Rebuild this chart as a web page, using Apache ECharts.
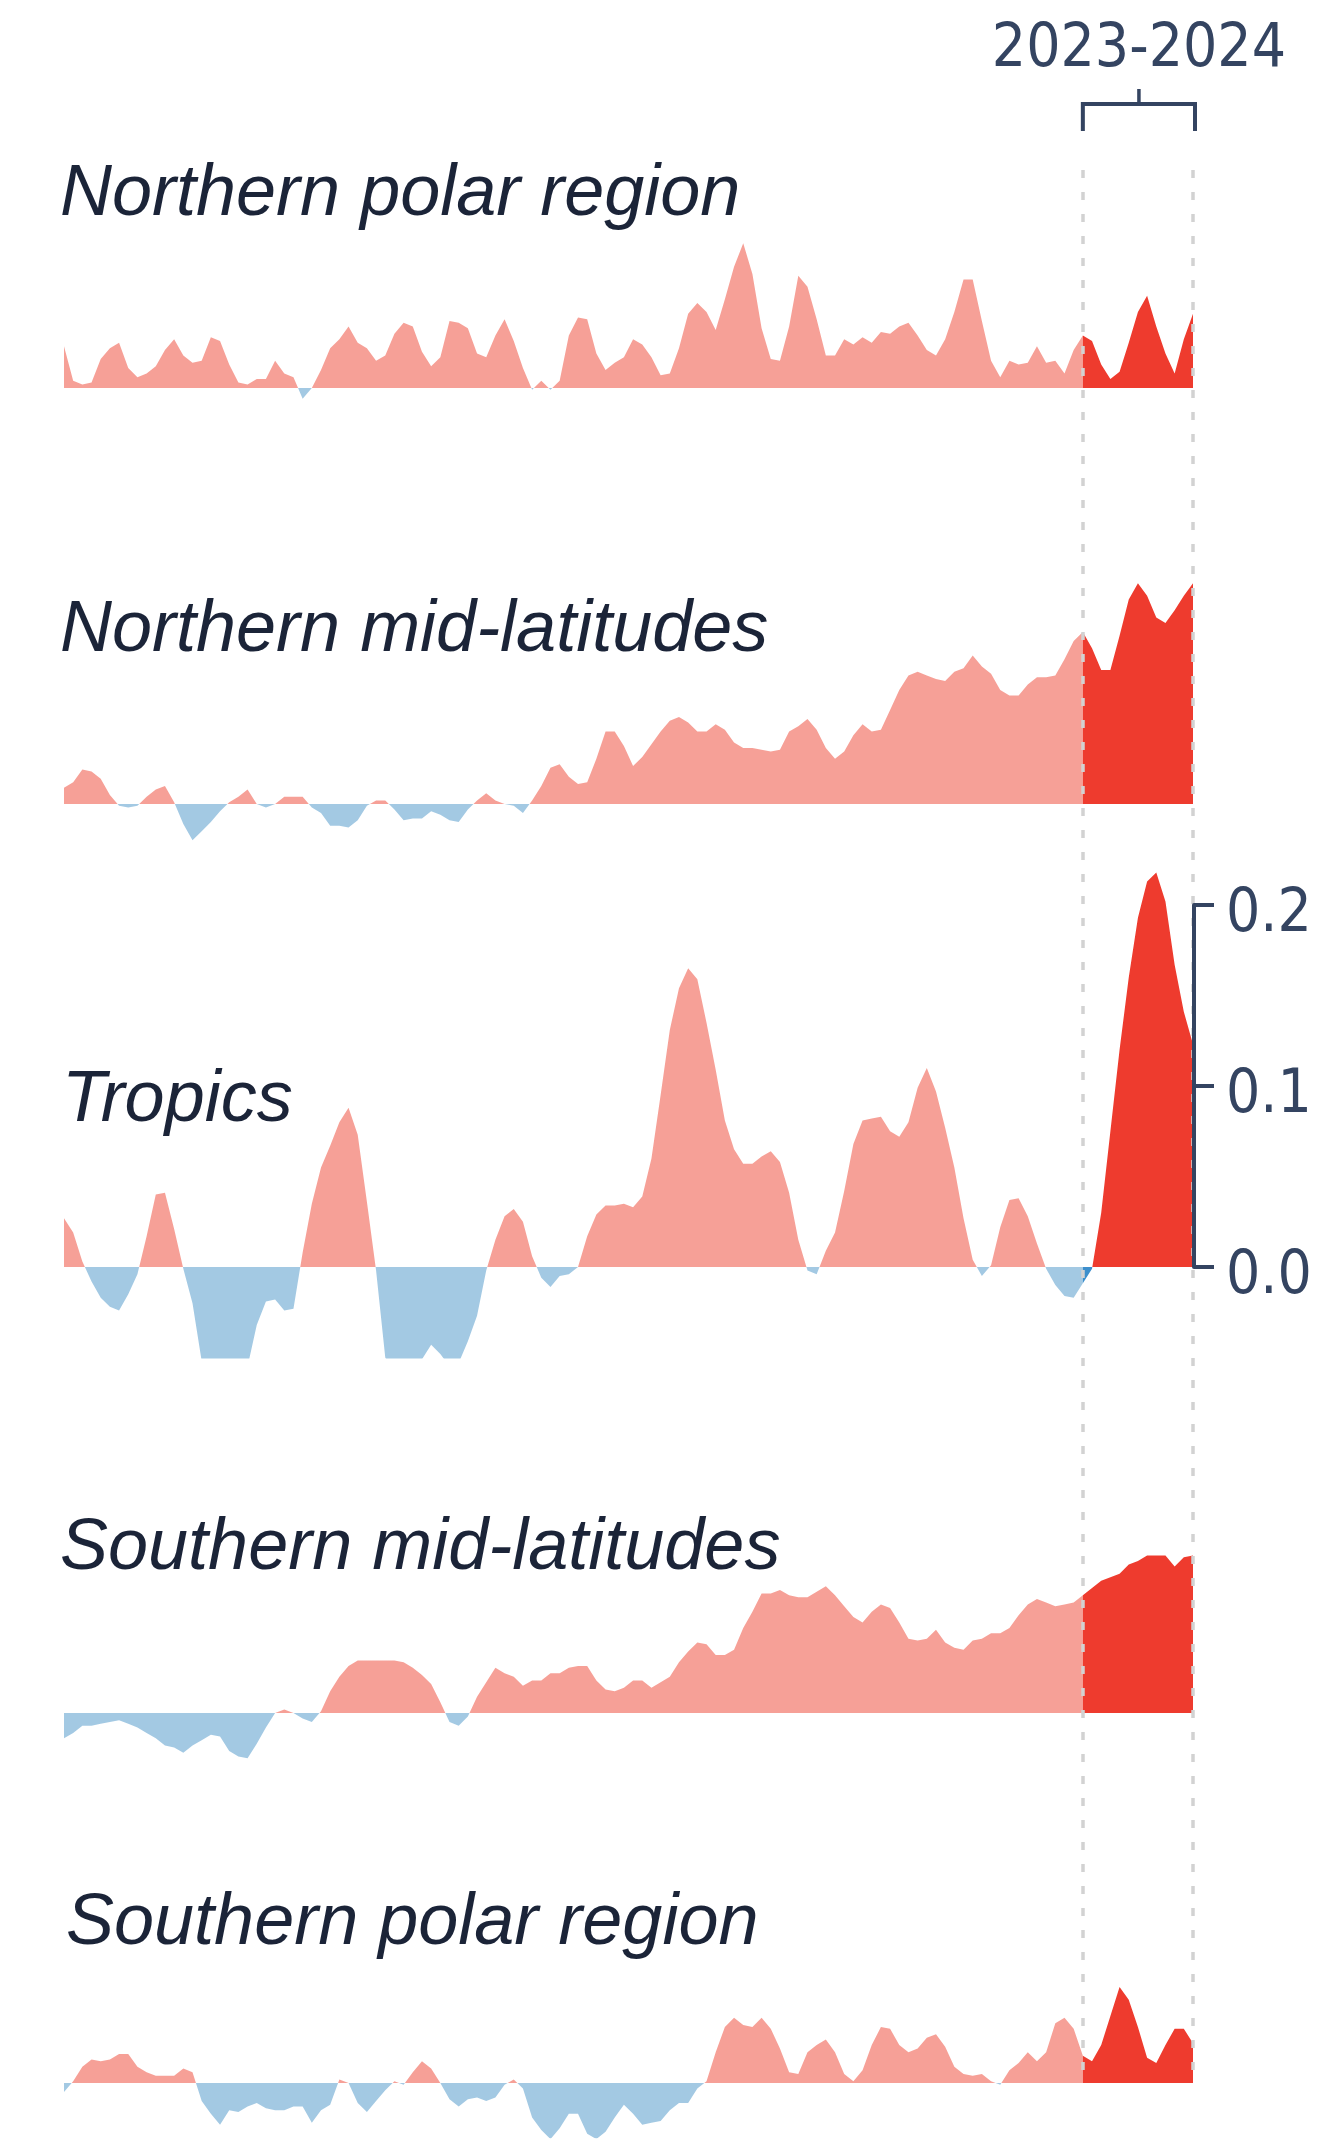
<!DOCTYPE html>
<html>
<head>
<meta charset="utf-8">
<script src="https://cdn.jsdelivr.net/npm/echarts/dist/echarts.min.js"></script>
<style>
html, body { margin: 0; padding: 0; background: #fff; }
#chart { width: 1332px; height: 2140px; }
</style>
</head>
<body>
<div id="chart"></div>
<script>
// regions, top to bottom
const regions = ['Northern polar region', 'Northern mid-latitudes', 'Tropics', 'Southern mid-latitudes', 'Southern polar region'];

// one value every two months; index 111 onward is 2023-2024
const startYear = 2004, startMonth = 7, stepMonths = 2, pointCount = 124, recentStart = 111;
const highlightLabel = '2023-2024';

const northPolar = [
  0.023, 0.004, 0.002, 0.003, 0.016, 0.022, 0.025, 0.011, 0.006, 0.008,
  0.012, 0.021, 0.027, 0.018, 0.014, 0.015, 0.028, 0.026, 0.013, 0.003,
  0.002, 0.005, 0.005, 0.015, 0.008, 0.006, -0.006, 0.000, 0.010, 0.022,
  0.027, 0.034, 0.025, 0.022, 0.015, 0.018, 0.030, 0.036, 0.034, 0.020,
  0.012, 0.017, 0.037, 0.036, 0.033, 0.019, 0.017, 0.029, 0.038, 0.026,
  0.011, -0.001, 0.004, -0.001, 0.004, 0.029, 0.039, 0.038, 0.019, 0.010,
  0.014, 0.017, 0.027, 0.024, 0.017, 0.007, 0.008, 0.022, 0.041, 0.047,
  0.042, 0.032, 0.049, 0.067, 0.080, 0.063, 0.033, 0.016, 0.015, 0.034,
  0.062, 0.056, 0.038, 0.018, 0.018, 0.027, 0.024, 0.028, 0.025, 0.031,
  0.030, 0.034, 0.036, 0.029, 0.021, 0.018, 0.027, 0.042, 0.060, 0.060,
  0.037, 0.015, 0.006, 0.015, 0.013, 0.014, 0.023, 0.014, 0.015, 0.008,
  0.021, 0.029, 0.026, 0.013, 0.005, 0.009, 0.025, 0.042, 0.051, 0.034,
  0.019, 0.008, 0.027, 0.041
];
const northMid = [
  0.009, 0.012, 0.019, 0.018, 0.014, 0.005, -0.001, -0.002, -0.001, 0.004,
  0.008, 0.010, 0.001, -0.011, -0.020, -0.015, -0.010, -0.004, 0.001, 0.004,
  0.008, 0.000, -0.002, 0.000, 0.004, 0.004, 0.004, -0.002, -0.005, -0.012,
  -0.012, -0.013, -0.009, -0.001, 0.002, 0.002, -0.003, -0.009, -0.008, -0.008,
  -0.004, -0.006, -0.009, -0.010, -0.003, 0.002, 0.006, 0.002, 0.000, -0.001,
  -0.005, 0.002, 0.010, 0.020, 0.022, 0.015, 0.011, 0.012, 0.025, 0.040,
  0.040, 0.032, 0.021, 0.026, 0.033, 0.040, 0.046, 0.048, 0.045, 0.040,
  0.040, 0.044, 0.041, 0.034, 0.031, 0.031, 0.030, 0.029, 0.030, 0.040,
  0.043, 0.047, 0.041, 0.031, 0.025, 0.029, 0.038, 0.044, 0.040, 0.041,
  0.052, 0.063, 0.071, 0.073, 0.071, 0.069, 0.068, 0.073, 0.075, 0.082,
  0.076, 0.072, 0.063, 0.060, 0.060, 0.066, 0.070, 0.070, 0.071, 0.080,
  0.090, 0.095, 0.086, 0.074, 0.074, 0.093, 0.113, 0.122, 0.115, 0.103,
  0.100, 0.107, 0.115, 0.122
];
const tropics = [
  0.027, 0.019, 0.003, -0.008, -0.017, -0.022, -0.024, -0.015, -0.004, 0.017,
  0.040, 0.041, 0.021, -0.001, -0.020, -0.052, -0.056, -0.060, -0.062, -0.060,
  -0.055, -0.032, -0.019, -0.018, -0.024, -0.023, 0.008, 0.035, 0.055, 0.067,
  0.080, 0.088, 0.073, 0.036, -0.002, -0.050, -0.060, -0.065, -0.060, -0.051,
  -0.043, -0.048, -0.055, -0.053, -0.041, -0.027, -0.002, 0.015, 0.028, 0.032,
  0.025, 0.006, -0.006, -0.011, -0.005, -0.004, 0.000, 0.017, 0.029, 0.034,
  0.034, 0.035, 0.033, 0.039, 0.060, 0.095, 0.131, 0.154, 0.165, 0.159,
  0.135, 0.109, 0.081, 0.065, 0.057, 0.057, 0.061, 0.064, 0.058, 0.041,
  0.015, -0.002, -0.004, 0.009, 0.019, 0.042, 0.068, 0.081, 0.082, 0.083,
  0.075, 0.072, 0.080, 0.099, 0.110, 0.097, 0.077, 0.055, 0.027, 0.004,
  -0.005, 0.001, 0.022, 0.037, 0.038, 0.028, 0.013, -0.001, -0.010, -0.016,
  -0.017, -0.009, -0.001, 0.030, 0.075, 0.120, 0.160, 0.193, 0.213, 0.218,
  0.202, 0.167, 0.141, 0.123
];
const southMid = [
  -0.014, -0.011, -0.007, -0.007, -0.006, -0.005, -0.004, -0.006, -0.008, -0.011,
  -0.014, -0.018, -0.019, -0.022, -0.018, -0.015, -0.012, -0.013, -0.021, -0.024,
  -0.025, -0.017, -0.008, 0.000, 0.002, 0.000, -0.003, -0.005, 0.001, 0.012,
  0.020, 0.026, 0.029, 0.029, 0.029, 0.029, 0.029, 0.028, 0.025, 0.021,
  0.016, 0.006, -0.005, -0.007, -0.002, 0.009, 0.017, 0.025, 0.022, 0.020,
  0.015, 0.018, 0.018, 0.022, 0.022, 0.025, 0.026, 0.026, 0.018, 0.013,
  0.012, 0.014, 0.018, 0.018, 0.014, 0.017, 0.020, 0.028, 0.034, 0.039,
  0.038, 0.032, 0.032, 0.035, 0.047, 0.056, 0.066, 0.066, 0.068, 0.065,
  0.064, 0.064, 0.067, 0.070, 0.065, 0.059, 0.053, 0.050, 0.056, 0.060,
  0.058, 0.050, 0.041, 0.040, 0.041, 0.046, 0.039, 0.036, 0.035, 0.040,
  0.041, 0.044, 0.044, 0.047, 0.054, 0.060, 0.063, 0.061, 0.059, 0.060,
  0.061, 0.065, 0.069, 0.073, 0.075, 0.077, 0.082, 0.084, 0.087, 0.087,
  0.087, 0.081, 0.086, 0.087
];
const southPolar = [
  -0.005, 0.001, 0.009, 0.013, 0.012, 0.013, 0.016, 0.016, 0.009, 0.006,
  0.004, 0.004, 0.004, 0.008, 0.006, -0.010, -0.017, -0.023, -0.015, -0.016,
  -0.013, -0.011, -0.014, -0.015, -0.015, -0.013, -0.013, -0.022, -0.015, -0.012,
  0.002, 0.000, -0.011, -0.016, -0.010, -0.004, 0.001, -0.001, 0.006, 0.012,
  0.008, 0.000, -0.009, -0.013, -0.009, -0.008, -0.010, -0.008, -0.001, 0.002,
  -0.003, -0.019, -0.026, -0.031, -0.025, -0.017, -0.017, -0.028, -0.031, -0.027,
  -0.019, -0.012, -0.017, -0.023, -0.022, -0.021, -0.015, -0.011, -0.011, -0.003,
  0.001, 0.017, 0.031, 0.036, 0.032, 0.031, 0.036, 0.030, 0.019, 0.006,
  0.005, 0.017, 0.021, 0.024, 0.017, 0.005, 0.001, 0.007, 0.021, 0.031,
  0.030, 0.021, 0.017, 0.019, 0.025, 0.027, 0.020, 0.009, 0.005, 0.004,
  0.005, 0.001, -0.001, 0.007, 0.011, 0.017, 0.012, 0.017, 0.033, 0.036,
  0.030, 0.015, 0.012, 0.021, 0.037, 0.053, 0.046, 0.031, 0.014, 0.011,
  0.021, 0.030, 0.030, 0.022
];

const scaleTicks = [0, 0.1, 0.2];

const periods = [];
for (let i = 0; i < pointCount; i++) {
  const m = startMonth - 1 + i * stepMonths;
  periods.push((startYear + Math.floor(m / 12)) + '-' + String(m % 12 + 1).padStart(2, '0'));
}

const PX = 1810; // pixels per unit, same in every panel
const panels = [
  { values: northPolar, base: 388, min: -0.02, max: 0.1, label: [60, 220] },
  { values: northMid, base: 804, min: -0.03, max: 0.13, label: [60, 656] },
  { values: tropics, base: 1267, min: -0.05, max: 0.23, label: [62, 1126] },
  { values: southMid, base: 1713, min: -0.03, max: 0.1, label: [60, 1574] },
  { values: southPolar, base: 2083, min: -0.03, max: 0.06, label: [66, 1949] }
];

const navy = '#1b2438';
const axisNavy = '#344461';
const numFont = "'Liberation Sans Narrow', 'DejaVu Sans Condensed', sans-serif";

const grid = [], xAxis = [], yAxis = [], series = [];
const histIdx = [], recentIdx = [];

panels.forEach((p, k) => {
  grid.push({ left: 64, right: 139, top: p.base - p.max * PX, height: (p.max - p.min) * PX, outerBoundsMode: 'none' });
  xAxis.push({ gridIndex: k, type: 'category', data: periods, boundaryGap: false, show: false });
  yAxis.push({ gridIndex: k, type: 'value', min: p.min, max: p.max, show: false, splitLine: { show: false } });
  histIdx.push(series.length);
  series.push({
    type: 'line', xAxisIndex: k, yAxisIndex: k, symbol: 'none', silent: true,
    lineStyle: { opacity: 0 }, areaStyle: { opacity: 1 },
    data: p.values.map((v, i) => (i <= recentStart ? v : '-'))
  });
  recentIdx.push(series.length);
  series.push({
    type: 'line', xAxisIndex: k, yAxisIndex: k, symbol: 'none', silent: true,
    lineStyle: { opacity: 0 }, areaStyle: { opacity: 1 },
    data: p.values.map((v, i) => (i >= recentStart ? v : '-'))
  });
});

// scale for the tropics panel (index 5)
grid.push({ left: 64, right: 138, top: 1267 - scaleTicks[2] * PX, height: scaleTicks[2] * PX, outerBoundsMode: 'none' });
xAxis.push({ gridIndex: 5, type: 'category', data: periods, boundaryGap: false, show: false });
yAxis.push({
  gridIndex: 5, type: 'value', position: 'right', z: 20, min: scaleTicks[0], max: scaleTicks[2], interval: scaleTicks[1],
  axisLine: { show: true, lineStyle: { color: axisNavy, width: 4 } },
  axisTick: { show: true, length: 20, lineStyle: { color: axisNavy, width: 4 } },
  // labels sit a little below their ticks
  axisLabel: { margin: 32, verticalAlign: 'top', lineHeight: 20, color: axisNavy, fontSize: 60, fontFamily: numFont, formatter: v => v.toFixed(1) },
  splitLine: { show: false }
});

// full height frame for the dashed 2023-2024 lines (index 6)
grid.push({ left: 64, right: 139, top: 160, height: 1910, outerBoundsMode: 'none' });
xAxis.push({ gridIndex: 6, type: 'category', data: periods, boundaryGap: false, show: false });
yAxis.push({ gridIndex: 6, type: 'value', min: 0, max: 1, show: false });
series.push({
  type: 'line', xAxisIndex: 6, yAxisIndex: 6, data: [], silent: true, z: 1,
  markLine: {
    symbol: 'none', silent: true, label: { show: false },
    lineStyle: { color: '#d2d2d2', width: 3.5, type: [8, 14] },
    data: [{ xAxis: periods[recentStart] }, { xAxis: periods[pointCount - 1] }]
  }
});

// blue below zero, red above; a finite middle piece keeps the gradient stops
const splitPieces = (neg, pos) => [
  { lt: 0, color: neg },
  { gte: 0, lte: 1, color: pos },
  { gt: 1, color: pos }
];

const chart = echarts.init(document.getElementById('chart'));
chart.setOption({
  animation: false,
  backgroundColor: '#fff',
  grid, xAxis, yAxis, series,
  visualMap: [
    { show: false, seriesIndex: histIdx, pieces: splitPieces('#a3c9e3', '#f6a097') },
    { show: false, seriesIndex: recentIdx, pieces: splitPieces('#3d8fcc', '#ee3b2e') }
  ]
});

const x0 = chart.convertToPixel({ xAxisIndex: 6 }, periods[recentStart]);
const x1 = chart.convertToPixel({ xAxisIndex: 6 }, periods[pointCount - 1]) + 2;
const xm = (x0 + x1) / 2;

const graphic = [
  { type: 'polyline', shape: { points: [[x0, 131], [x0, 104], [x1, 104], [x1, 131]] }, style: { stroke: axisNavy, lineWidth: 4, fill: null } },
  { type: 'line', shape: { x1: xm, y1: 104, x2: xm, y2: 89 }, style: { stroke: axisNavy, lineWidth: 3.5 } },
  { type: 'text', style: { text: highlightLabel, x: xm, y: 50, align: 'center', verticalAlign: 'middle', font: '60px ' + numFont, fill: axisNavy } }
];
panels.forEach((p, k) => {
  graphic.push({
    type: 'text',
    style: { text: regions[k], x: p.label[0], y: p.label[1] - 25, align: 'left', verticalAlign: 'middle',
      font: "italic 72px 'Liberation Sans', Arial, sans-serif", fill: navy }
  });
});
chart.setOption({ graphic });
</script>
</body>
</html>
